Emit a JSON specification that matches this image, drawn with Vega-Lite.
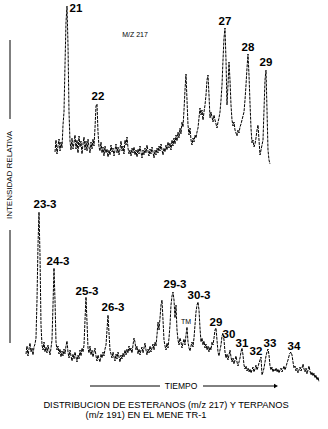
{
"$schema":"https://vega.github.io/schema/vega-lite/v6.json",
"width":328,"height":429,
"autosize":{"type":"fit","contains":"padding"},
"padding":0,
"background":"white",
"config":{"view":{"stroke":null},"font":"Liberation Sans"},
"datasets":{
"m217":[{"x":55,"y":152},{"x":56,"y":140},{"x":57,"y":154},{"x":58,"y":146},{"x":59,"y":139},{"x":60,"y":151},{"x":61,"y":142},{"x":62,"y":148},{"x":63,"y":125},{"x":64,"y":112},{"x":65,"y":65},{"x":66,"y":22},{"x":67,"y":6},{"x":68,"y":45},{"x":69,"y":112},{"x":70,"y":141},{"x":71,"y":150},{"x":72,"y":138},{"x":73,"y":149},{"x":74,"y":143},{"x":75,"y":135},{"x":76,"y":149},{"x":77,"y":140},{"x":78,"y":153},{"x":79,"y":136},{"x":80,"y":147},{"x":81,"y":141},{"x":82,"y":154},{"x":83,"y":144},{"x":84,"y":137},{"x":85,"y":150},{"x":86,"y":141},{"x":87,"y":151},{"x":88,"y":139},{"x":89,"y":147},{"x":90,"y":153},{"x":91,"y":142},{"x":92,"y":149},{"x":93,"y":139},{"x":94,"y":146},{"x":95,"y":128},{"x":96,"y":106},{"x":97,"y":104},{"x":98,"y":132},{"x":99,"y":147},{"x":100,"y":151},{"x":101,"y":142},{"x":102,"y":153},{"x":103,"y":147},{"x":104,"y":156},{"x":105,"y":146},{"x":106,"y":153},{"x":107,"y":149},{"x":108,"y":157},{"x":109,"y":150},{"x":110,"y":155},{"x":111,"y":145},{"x":112,"y":152},{"x":113,"y":148},{"x":114,"y":156},{"x":115,"y":150},{"x":116,"y":144},{"x":117,"y":153},{"x":118,"y":147},{"x":119,"y":155},{"x":120,"y":149},{"x":121,"y":141},{"x":122,"y":151},{"x":123,"y":146},{"x":124,"y":154},{"x":125,"y":140},{"x":126,"y":145},{"x":127,"y":137},{"x":128,"y":148},{"x":129,"y":154},{"x":130,"y":150},{"x":131,"y":156},{"x":132,"y":148},{"x":133,"y":153},{"x":134,"y":147},{"x":135,"y":155},{"x":136,"y":150},{"x":137,"y":157},{"x":138,"y":149},{"x":139,"y":154},{"x":140,"y":146},{"x":141,"y":152},{"x":142,"y":158},{"x":143,"y":150},{"x":144,"y":155},{"x":145,"y":148},{"x":146,"y":153},{"x":147,"y":145},{"x":148,"y":151},{"x":149,"y":156},{"x":150,"y":149},{"x":151,"y":154},{"x":152,"y":147},{"x":153,"y":152},{"x":154,"y":158},{"x":155,"y":150},{"x":156,"y":155},{"x":157,"y":148},{"x":158,"y":153},{"x":159,"y":146},{"x":160,"y":151},{"x":161,"y":144},{"x":162,"y":150},{"x":163,"y":155},{"x":164,"y":148},{"x":165,"y":152},{"x":166,"y":145},{"x":167,"y":150},{"x":168,"y":142},{"x":169,"y":148},{"x":170,"y":143},{"x":171,"y":150},{"x":172,"y":140},{"x":173,"y":146},{"x":174,"y":138},{"x":175,"y":144},{"x":176,"y":135},{"x":177,"y":141},{"x":178,"y":132},{"x":179,"y":138},{"x":180,"y":128},{"x":181,"y":134},{"x":182,"y":122},{"x":183,"y":127},{"x":184,"y":110},{"x":185,"y":90},{"x":186,"y":74},{"x":187,"y":100},{"x":188,"y":125},{"x":189,"y":135},{"x":190,"y":128},{"x":191,"y":140},{"x":192,"y":145},{"x":193,"y":138},{"x":194,"y":142},{"x":195,"y":135},{"x":196,"y":138},{"x":197,"y":132},{"x":198,"y":128},{"x":199,"y":118},{"x":200,"y":108},{"x":201,"y":115},{"x":202,"y":110},{"x":203,"y":120},{"x":204,"y":112},{"x":205,"y":105},{"x":206,"y":95},{"x":207,"y":80},{"x":208,"y":75},{"x":209,"y":95},{"x":210,"y":118},{"x":211,"y":112},{"x":212,"y":117},{"x":213,"y":122},{"x":214,"y":115},{"x":215,"y":120},{"x":216,"y":124},{"x":217,"y":128},{"x":218,"y":122},{"x":219,"y":118},{"x":220,"y":112},{"x":221,"y":100},{"x":222,"y":85},{"x":223,"y":60},{"x":224,"y":38},{"x":225,"y":28},{"x":226,"y":60},{"x":227,"y":105},{"x":228,"y":85},{"x":229,"y":62},{"x":230,"y":80},{"x":231,"y":105},{"x":232,"y":120},{"x":233,"y":126},{"x":234,"y":122},{"x":235,"y":130},{"x":236,"y":133},{"x":237,"y":136},{"x":238,"y":130},{"x":239,"y":133},{"x":240,"y":127},{"x":241,"y":124},{"x":242,"y":120},{"x":243,"y":116},{"x":244,"y":112},{"x":245,"y":100},{"x":246,"y":85},{"x":247,"y":68},{"x":248,"y":54},{"x":249,"y":75},{"x":250,"y":103},{"x":251,"y":128},{"x":252,"y":143},{"x":253,"y":140},{"x":254,"y":147},{"x":255,"y":144},{"x":256,"y":138},{"x":257,"y":130},{"x":258,"y":125},{"x":259,"y":140},{"x":260,"y":155},{"x":261,"y":150},{"x":262,"y":145},{"x":263,"y":140},{"x":264,"y":110},{"x":265,"y":80},{"x":266,"y":70},{"x":267,"y":110},{"x":268,"y":150},{"x":269,"y":160},{"x":270,"y":164}],
"m191":[{"x":26,"y":354},{"x":27,"y":346},{"x":28,"y":356},{"x":29,"y":349},{"x":30,"y":343},{"x":31,"y":352},{"x":32,"y":348},{"x":33,"y":355},{"x":34,"y":347},{"x":35,"y":344},{"x":36,"y":338},{"x":37,"y":300},{"x":38,"y":245},{"x":39,"y":212},{"x":40,"y":255},{"x":41,"y":325},{"x":42,"y":345},{"x":43,"y":350},{"x":44,"y":342},{"x":45,"y":352},{"x":46,"y":347},{"x":47,"y":353},{"x":48,"y":345},{"x":49,"y":350},{"x":50,"y":355},{"x":51,"y":348},{"x":52,"y":340},{"x":53,"y":305},{"x":54,"y":268},{"x":55,"y":300},{"x":56,"y":342},{"x":57,"y":350},{"x":58,"y":346},{"x":59,"y":354},{"x":60,"y":349},{"x":61,"y":357},{"x":62,"y":351},{"x":63,"y":356},{"x":64,"y":349},{"x":65,"y":354},{"x":66,"y":346},{"x":67,"y":341},{"x":68,"y":352},{"x":69,"y":358},{"x":70,"y":350},{"x":71,"y":356},{"x":72,"y":361},{"x":73,"y":354},{"x":74,"y":359},{"x":75,"y":352},{"x":76,"y":357},{"x":77,"y":362},{"x":78,"y":355},{"x":79,"y":359},{"x":80,"y":350},{"x":81,"y":356},{"x":82,"y":348},{"x":83,"y":352},{"x":84,"y":345},{"x":85,"y":320},{"x":86,"y":297},{"x":87,"y":322},{"x":88,"y":348},{"x":89,"y":353},{"x":90,"y":346},{"x":91,"y":355},{"x":92,"y":350},{"x":93,"y":357},{"x":94,"y":352},{"x":95,"y":348},{"x":96,"y":356},{"x":97,"y":361},{"x":98,"y":355},{"x":99,"y":359},{"x":100,"y":362},{"x":101,"y":354},{"x":102,"y":358},{"x":103,"y":352},{"x":104,"y":356},{"x":105,"y":349},{"x":106,"y":345},{"x":107,"y":330},{"x":108,"y":315},{"x":109,"y":333},{"x":110,"y":350},{"x":111,"y":354},{"x":112,"y":358},{"x":113,"y":352},{"x":114,"y":357},{"x":115,"y":361},{"x":116,"y":354},{"x":117,"y":359},{"x":118,"y":352},{"x":119,"y":357},{"x":120,"y":362},{"x":121,"y":355},{"x":122,"y":359},{"x":123,"y":353},{"x":124,"y":357},{"x":125,"y":350},{"x":126,"y":355},{"x":127,"y":349},{"x":128,"y":353},{"x":129,"y":346},{"x":130,"y":351},{"x":131,"y":348},{"x":132,"y":353},{"x":133,"y":345},{"x":134,"y":338},{"x":135,"y":342},{"x":136,"y":350},{"x":137,"y":346},{"x":138,"y":354},{"x":139,"y":349},{"x":140,"y":355},{"x":141,"y":350},{"x":142,"y":347},{"x":143,"y":353},{"x":144,"y":348},{"x":145,"y":343},{"x":146,"y":350},{"x":147,"y":355},{"x":148,"y":349},{"x":149,"y":353},{"x":150,"y":346},{"x":151,"y":352},{"x":152,"y":348},{"x":153,"y":344},{"x":154,"y":350},{"x":155,"y":342},{"x":156,"y":346},{"x":157,"y":335},{"x":158,"y":322},{"x":159,"y":330},{"x":160,"y":318},{"x":161,"y":305},{"x":162,"y":300},{"x":163,"y":320},{"x":164,"y":340},{"x":165,"y":346},{"x":166,"y":350},{"x":167,"y":343},{"x":168,"y":348},{"x":169,"y":338},{"x":170,"y":325},{"x":171,"y":305},{"x":172,"y":296},{"x":173,"y":292},{"x":174,"y":300},{"x":175,"y":318},{"x":176,"y":305},{"x":177,"y":330},{"x":178,"y":340},{"x":179,"y":345},{"x":180,"y":338},{"x":181,"y":342},{"x":182,"y":348},{"x":183,"y":343},{"x":184,"y":339},{"x":185,"y":345},{"x":186,"y":335},{"x":187,"y":327},{"x":188,"y":342},{"x":189,"y":348},{"x":190,"y":351},{"x":191,"y":346},{"x":192,"y":342},{"x":193,"y":347},{"x":194,"y":338},{"x":195,"y":325},{"x":196,"y":312},{"x":197,"y":305},{"x":198,"y":302},{"x":199,"y":310},{"x":200,"y":328},{"x":201,"y":342},{"x":202,"y":338},{"x":203,"y":345},{"x":204,"y":341},{"x":205,"y":348},{"x":206,"y":344},{"x":207,"y":350},{"x":208,"y":346},{"x":209,"y":352},{"x":210,"y":347},{"x":211,"y":350},{"x":212,"y":342},{"x":213,"y":345},{"x":214,"y":338},{"x":215,"y":330},{"x":216,"y":328},{"x":217,"y":340},{"x":218,"y":352},{"x":219,"y":356},{"x":220,"y":350},{"x":221,"y":345},{"x":222,"y":336},{"x":223,"y":333},{"x":224,"y":340},{"x":225,"y":352},{"x":226,"y":358},{"x":227,"y":354},{"x":228,"y":360},{"x":229,"y":355},{"x":230,"y":350},{"x":231,"y":357},{"x":232,"y":362},{"x":233,"y":358},{"x":234,"y":364},{"x":235,"y":360},{"x":236,"y":356},{"x":237,"y":362},{"x":238,"y":366},{"x":239,"y":362},{"x":240,"y":358},{"x":241,"y":352},{"x":242,"y":348},{"x":243,"y":355},{"x":244,"y":365},{"x":245,"y":369},{"x":246,"y":366},{"x":247,"y":371},{"x":248,"y":368},{"x":249,"y":372},{"x":250,"y":369},{"x":251,"y":373},{"x":252,"y":370},{"x":253,"y":367},{"x":254,"y":372},{"x":255,"y":369},{"x":256,"y":365},{"x":257,"y":370},{"x":258,"y":367},{"x":259,"y":363},{"x":260,"y":360},{"x":261,"y":357},{"x":262,"y":375},{"x":263,"y":372},{"x":264,"y":368},{"x":265,"y":362},{"x":266,"y":356},{"x":267,"y":352},{"x":268,"y":349},{"x":269,"y":355},{"x":270,"y":366},{"x":271,"y":370},{"x":272,"y":367},{"x":273,"y":372},{"x":274,"y":369},{"x":275,"y":371},{"x":276,"y":368},{"x":277,"y":372},{"x":278,"y":369},{"x":279,"y":373},{"x":280,"y":370},{"x":281,"y":368},{"x":282,"y":372},{"x":283,"y":369},{"x":284,"y":366},{"x":285,"y":370},{"x":286,"y":367},{"x":287,"y":363},{"x":288,"y":360},{"x":289,"y":356},{"x":290,"y":353},{"x":291,"y":352},{"x":292,"y":355},{"x":293,"y":362},{"x":294,"y":368},{"x":295,"y":366},{"x":296,"y":371},{"x":297,"y":368},{"x":298,"y":373},{"x":299,"y":370},{"x":300,"y":367},{"x":301,"y":371},{"x":302,"y":368},{"x":303,"y":364},{"x":304,"y":369},{"x":305,"y":372},{"x":306,"y":368},{"x":307,"y":374},{"x":308,"y":370},{"x":309,"y":366},{"x":310,"y":371},{"x":311,"y":375},{"x":312,"y":372},{"x":313,"y":376},{"x":314,"y":373},{"x":315,"y":378},{"x":316,"y":375},{"x":317,"y":380},{"x":318,"y":377},{"x":319,"y":382}],
"peaks":[{"label":"21","x":76,"y":9},{"label":"22","x":98,"y":97},{"label":"27","x":225,"y":22},{"label":"28","x":248,"y":48},{"label":"29","x":266,"y":63},{"label":"23-3","x":45,"y":205},{"label":"24-3","x":58,"y":262},{"label":"25-3","x":87,"y":292},{"label":"26-3","x":113,"y":308},{"label":"29-3","x":175,"y":285},{"label":"30-3","x":199,"y":296},{"label":"29","x":216,"y":323},{"label":"30","x":229,"y":335},{"label":"31","x":242,"y":344},{"label":"32","x":256,"y":352},{"label":"33","x":270,"y":344},{"label":"34","x":294,"y":347}],
"small":[{"label":"M/Z 217","x":135,"y":35},{"label":"TM","x":186,"y":322}],
"lines":[{"x":10,"y":40,"x2":10,"y2":119},{"x":10,"y":230,"x2":10,"y2":343},{"x":90,"y":386,"x2":160,"y2":386},{"x":203,"y":386,"x2":275,"y2":386}],
"arrow":[{"x":276,"y":386}],
"tiempo":[{"label":"TIEMPO","x":181,"y":386}],
"ylab":[{"label":"INTENSIDAD RELATIVA","x":10,"y":175}],
"caption":[{"label":"DISTRIBUCION DE ESTERANOS (m/z 217) Y TERPANOS","x":166,"y":405},{"label":"(m/z 191) EN EL MENE TR-1","x":146,"y":415}]
},
"encoding":{
"x":{"field":"x","type":"quantitative","scale":{"domain":[0,328],"nice":false,"zero":false},"axis":null},
"y":{"field":"y","type":"quantitative","scale":{"domain":[0,429],"nice":false,"zero":false,"reverse":true},"axis":null}
},
"layer":[
{"data":{"name":"m217"},"mark":{"type":"line","color":"black","strokeWidth":1,"strokeDash":[3,1]}},
{"data":{"name":"m191"},"mark":{"type":"line","color":"black","strokeWidth":1,"strokeDash":[3,1]}},
{"data":{"name":"lines"},"mark":{"type":"rule","color":"black","strokeWidth":1},"encoding":{"x2":{"field":"x2"},"y2":{"field":"y2"}}},
{"data":{"name":"arrow"},"mark":{"type":"point","shape":"triangle-right","filled":true,"color":"black","size":22,"opacity":1}},
{"data":{"name":"peaks"},"mark":{"type":"text","fontSize":11.5,"fontWeight":"bold","align":"center","baseline":"middle","color":"black"},"encoding":{"text":{"field":"label"}}},
{"data":{"name":"small"},"mark":{"type":"text","fontSize":7,"align":"center","baseline":"middle","color":"black"},"encoding":{"text":{"field":"label"}}},
{"data":{"name":"tiempo"},"mark":{"type":"text","fontSize":8.5,"align":"center","baseline":"middle","color":"black"},"encoding":{"text":{"field":"label"}}},
{"data":{"name":"ylab"},"mark":{"type":"text","fontSize":8,"angle":270,"align":"center","baseline":"middle","color":"black"},"encoding":{"text":{"field":"label"}}},
{"data":{"name":"caption"},"mark":{"type":"text","fontSize":9.3,"align":"center","baseline":"middle","color":"black"},"encoding":{"text":{"field":"label"}}}
]
}
